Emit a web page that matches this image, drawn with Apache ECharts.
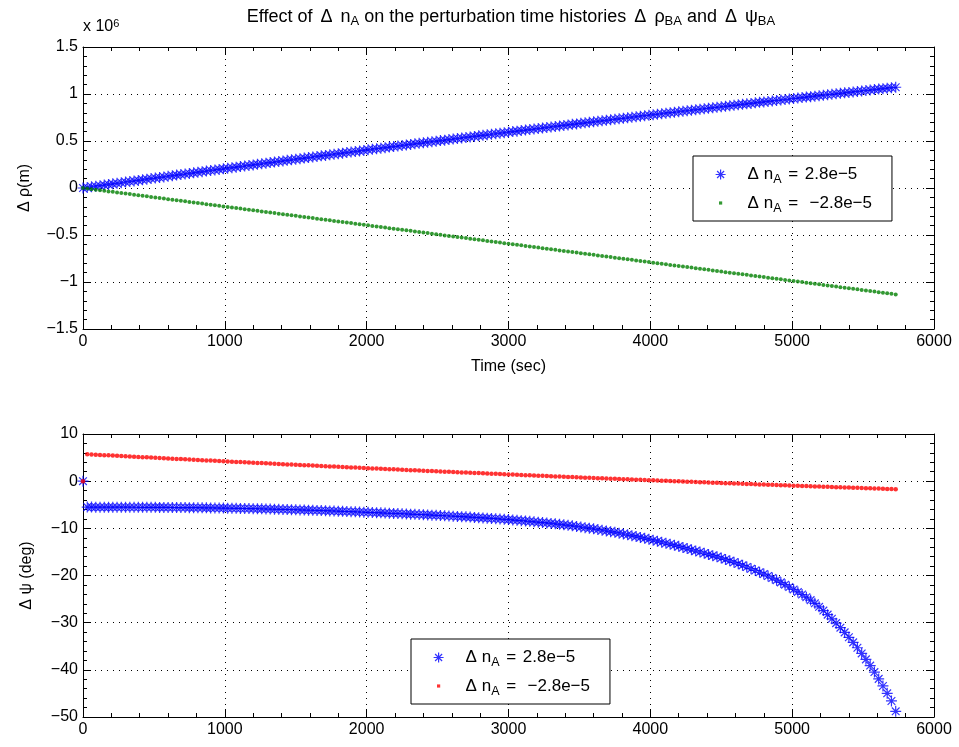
<!DOCTYPE html>
<html>
<head>
<meta charset="utf-8">
<title>Perturbation time histories</title>
<script src="https://cdn.jsdelivr.net/npm/echarts@6/dist/echarts.min.js"></script>
</head>
<body style="margin:0">
<div id="main" style="width:959px;height:747px;"></div>
<script>
// sample times (sec)
var times = [
0,30,60,90,120,150,180,210,240,270,
300,330,360,390,420,450,480,510,540,570,
600,630,660,690,720,750,780,810,840,870,
900,930,960,990,1020,1050,1080,1110,1140,1170,
1200,1230,1260,1290,1320,1350,1380,1410,1440,1470,
1500,1530,1560,1590,1620,1650,1680,1710,1740,1770,
1800,1830,1860,1890,1920,1950,1980,2010,2040,2070,
2100,2130,2160,2190,2220,2250,2280,2310,2340,2370,
2400,2430,2460,2490,2520,2550,2580,2610,2640,2670,
2700,2730,2760,2790,2820,2850,2880,2910,2940,2970,
3000,3030,3060,3090,3120,3150,3180,3210,3240,3270,
3300,3330,3360,3390,3420,3450,3480,3510,3540,3570,
3600,3630,3660,3690,3720,3750,3780,3810,3840,3870,
3900,3930,3960,3990,4020,4050,4080,4110,4140,4170,
4200,4230,4260,4290,4320,4350,4380,4410,4440,4470,
4500,4530,4560,4590,4620,4650,4680,4710,4740,4770,
4800,4830,4860,4890,4920,4950,4980,5010,5040,5070,
5100,5130,5160,5190,5220,5250,5280,5310,5340,5370,
5400,5430,5460,5490,5520,5550,5580,5610,5640,5670,
5700,5730];

// delta rho, in thousands of metres (axis shows x 10^6)
var rhoPlus = [
0,6,13,19,25,31,38,44,50,56,
63,69,75,81,87,94,100,106,112,118,
125,131,137,143,149,155,161,167,174,180,
186,192,198,204,210,216,222,228,234,240,
246,252,258,264,270,276,282,288,294,300,
306,312,318,324,330,336,342,347,353,359,
365,371,377,383,388,394,400,406,412,418,
423,429,435,441,446,452,458,464,470,475,
481,487,492,498,504,509,515,521,527,532,
538,543,549,555,560,566,572,577,583,588,
594,600,605,611,616,622,627,633,638,644,
649,655,660,666,671,677,682,688,693,699,
704,710,715,720,726,731,737,742,747,753,
758,764,769,774,780,785,790,796,801,806,
811,817,822,827,833,838,843,848,854,859,
864,869,874,880,885,890,895,900,906,911,
916,921,926,931,936,941,947,952,957,962,
967,972,977,982,987,992,997,1002,1007,1012,
1017,1022,1027,1032,1037,1042,1047,1052,1057,1062,
1067,1072];

var rhoMinus = [
0,-6,-12,-18,-24,-30,-36,-41,-47,-53,
-59,-65,-71,-77,-83,-89,-95,-101,-107,-113,
-119,-124,-130,-136,-142,-148,-154,-160,-166,-172,
-178,-184,-190,-196,-201,-207,-213,-219,-225,-231,
-237,-243,-249,-255,-261,-267,-273,-278,-284,-290,
-296,-302,-308,-314,-320,-326,-332,-338,-344,-350,
-356,-361,-367,-373,-379,-385,-391,-397,-403,-409,
-415,-421,-427,-433,-438,-444,-450,-456,-462,-468,
-474,-480,-486,-492,-498,-504,-510,-515,-521,-527,
-533,-539,-545,-551,-557,-563,-569,-575,-581,-587,
-593,-598,-604,-610,-616,-622,-628,-634,-640,-646,
-652,-658,-664,-670,-675,-681,-687,-693,-699,-705,
-711,-717,-723,-729,-735,-741,-747,-752,-758,-764,
-770,-776,-782,-788,-794,-800,-806,-812,-818,-824,
-830,-835,-841,-847,-853,-859,-865,-871,-877,-883,
-889,-895,-901,-907,-912,-918,-924,-930,-936,-942,
-948,-954,-960,-966,-972,-978,-984,-989,-995,-1001,
-1007,-1013,-1019,-1025,-1031,-1037,-1043,-1049,-1055,-1061,
-1067,-1072,-1078,-1084,-1090,-1096,-1102,-1108,-1114,-1120,
-1126,-1132];

// delta psi, degrees
var psiPlus = [
0,-5.50,-5.50,-5.51,-5.51,-5.51,-5.51,-5.51,-5.52,-5.52,
-5.52,-5.52,-5.53,-5.53,-5.54,-5.54,-5.55,-5.55,-5.56,-5.56,
-5.57,-5.58,-5.59,-5.59,-5.60,-5.61,-5.62,-5.63,-5.65,-5.66,
-5.67,-5.68,-5.70,-5.71,-5.73,-5.74,-5.76,-5.78,-5.79,-5.81,
-5.83,-5.85,-5.87,-5.90,-5.92,-5.94,-5.96,-5.99,-6.01,-6.04,
-6.06,-6.09,-6.12,-6.14,-6.17,-6.20,-6.23,-6.26,-6.30,-6.33,
-6.36,-6.40,-6.43,-6.47,-6.50,-6.54,-6.58,-6.61,-6.65,-6.68,
-6.72,-6.76,-6.80,-6.83,-6.87,-6.91,-6.95,-6.99,-7.03,-7.07,
-7.11,-7.15,-7.20,-7.24,-7.29,-7.33,-7.38,-7.43,-7.47,-7.52,
-7.57,-7.62,-7.68,-7.73,-7.79,-7.84,-7.90,-7.96,-8.03,-8.09,
-8.15,-8.22,-8.30,-8.37,-8.45,-8.52,-8.61,-8.69,-8.78,-8.86,
-8.95,-9.05,-9.16,-9.26,-9.37,-9.47,-9.60,-9.72,-9.85,-9.97,
-10.10,-10.25,-10.40,-10.55,-10.70,-10.85,-11.02,-11.20,-11.37,-11.55,
-11.72,-11.92,-12.12,-12.32,-12.52,-12.72,-12.94,-13.16,-13.38,-13.60,
-13.82,-14.06,-14.30,-14.54,-14.78,-15.02,-15.28,-15.53,-15.79,-16.04,
-16.30,-16.59,-16.89,-17.20,-17.52,-17.85,-18.20,-18.56,-18.93,-19.31,
-19.70,-20.11,-20.54,-20.99,-21.46,-21.95,-22.44,-22.95,-23.48,-24.03,
-24.60,-25.22,-25.90,-26.64,-27.44,-28.30,-29.18,-30.10,-31.06,-32.06,
-33.10,-34.18,-35.32,-36.52,-37.78,-39.10,-40.48,-41.92,-43.42,-44.98,
-46.60,-48.80];

var psiMinus = [
0,5.70,5.66,5.61,5.56,5.51,5.47,5.42,5.37,5.32,
5.28,5.23,5.18,5.14,5.09,5.05,5.00,4.95,4.91,4.86,
4.81,4.77,4.72,4.68,4.63,4.59,4.54,4.49,4.45,4.40,
4.36,4.31,4.27,4.22,4.18,4.14,4.09,4.05,4.00,3.96,
3.91,3.87,3.83,3.78,3.74,3.70,3.65,3.61,3.56,3.52,
3.48,3.43,3.39,3.35,3.31,3.26,3.22,3.18,3.13,3.09,
3.05,3.01,2.97,2.92,2.88,2.84,2.80,2.76,2.71,2.67,
2.63,2.59,2.55,2.51,2.47,2.43,2.39,2.34,2.30,2.26,
2.22,2.18,2.14,2.10,2.06,2.02,1.98,1.94,1.90,1.86,
1.82,1.78,1.75,1.71,1.67,1.63,1.59,1.55,1.51,1.47,
1.43,1.39,1.36,1.32,1.28,1.24,1.20,1.17,1.13,1.09,
1.05,1.01,0.98,0.94,0.90,0.86,0.83,0.79,0.75,0.72,
0.68,0.64,0.61,0.57,0.53,0.50,0.46,0.42,0.39,0.35,
0.31,0.28,0.24,0.21,0.17,0.14,0.10,0.07,0.03,0.00,
-0.04,-0.07,-0.11,-0.14,-0.18,-0.21,-0.25,-0.28,-0.32,-0.35,
-0.38,-0.42,-0.45,-0.48,-0.52,-0.55,-0.59,-0.62,-0.65,-0.69,
-0.72,-0.75,-0.78,-0.82,-0.85,-0.88,-0.92,-0.95,-0.98,-1.01,
-1.05,-1.08,-1.11,-1.14,-1.17,-1.20,-1.24,-1.27,-1.30,-1.33,
-1.36,-1.39,-1.42,-1.46,-1.49,-1.52,-1.55,-1.58,-1.61,-1.64,
-1.67,-1.70];

var legendNames = {
    plus: '{a|\u0394 n}{s|A}{e| = }{a|2.8e\u22125}',
    minus: '{a|\u0394 n}{s|A}{e| =  }{a|\u22122.8e\u22125}'
};

var FONT = 'Liberation Sans';
var STAR = 'path://M0,5L10,5M5,0L5,10M1.5,1.5L8.5,8.5M1.5,8.5L8.5,1.5';
var DOT = 'path://M0,0M10,10M3.4,3.4L6.6,3.4L6.6,6.6L3.4,6.6Z';

var myChart = echarts.init(document.getElementById('main'));

function pairs(vals) {
    return times.map(function (t, i) { return [t, vals[i]]; });
}
function fmt(v) {
    return String(v).replace('-', '\u2212');
}

var nameStyle = {color: '#000', fontSize: 16, fontFamily: FONT};
var gridLine = {show: true, lineStyle: {color: '#000', type: [1, 5], width: 1}};

function axisCommon(grid, pos, min, max, interval, main) {
    return {
        type: 'value', gridIndex: grid, position: pos,
        min: min, max: max, interval: interval,
        axisLine: {show: true, onZero: false, lineStyle: {color: '#000', width: 1}},
        axisTick: {show: true, inside: true, length: 8, lineStyle: {color: '#000'}},
        minorTick: {show: true, splitNumber: 5, length: 4, lineStyle: {color: '#000'}},
        axisLabel: main ? {show: true, margin: 5, formatter: fmt, color: '#000', fontSize: 16, fontFamily: FONT} : {show: false},
        splitLine: main ? gridLine : {show: false}
    };
}

var xTop = axisCommon(0, 'bottom', 0, 6000, 1000, true);
xTop.name = 'Time (sec)';
xTop.nameLocation = 'middle';
xTop.nameGap = 30;
xTop.nameTextStyle = nameStyle;

var yTop = axisCommon(0, 'left', -1500, 1500, 500, true);
yTop.axisLabel.formatter = function (v) { return fmt(v / 1000); };
yTop.name = '\u0394 \u03c1(m)';
yTop.nameLocation = 'middle';
yTop.nameRotate = 90;
yTop.nameGap = 50;
yTop.nameTextStyle = nameStyle;

var yBot = axisCommon(1, 'left', -50, 10, 10, true);
yBot.name = '\u0394 \u03c8 (deg)';
yBot.nameLocation = 'middle';
yBot.nameRotate = 90;
yBot.nameGap = 48;
yBot.nameTextStyle = nameStyle;

var legendRich = {
    a: {fontSize: 17, lineHeight: 24, fontFamily: FONT, color: '#000'},
    e: {fontSize: 17, lineHeight: 24, fontFamily: FONT, color: '#000', padding: [0, 2, 0, 2]},
    s: {fontSize: 12.5, lineHeight: 10, verticalAlign: 'bottom', fontFamily: FONT, color: '#000'}
};

function makeLegend(left, top, names) {
    return {
        data: [{name: names[0]}, {name: names[1], icon: DOT}],
        orient: 'vertical', left: left, top: top,
        itemWidth: 44, itemHeight: 10, itemGap: 8,
        padding: [10, 20, 6, 22],
        borderColor: '#000', borderWidth: 1, backgroundColor: '#fff',
        selectedMode: false,
        itemStyle: {borderWidth: 1.2},
        formatter: function (n) { return n.charAt(0) === 'p' ? legendNames.plus : legendNames.minus; },
        textStyle: {rich: legendRich}
    };
}

function starSeries(name, x, y, vals) {
    return {
        name: name, type: 'scatter', xAxisIndex: x, yAxisIndex: y, clip: false,
        symbol: STAR, symbolSize: 11,
        itemStyle: {color: 'rgba(0,0,0,0)', borderColor: '#0000ff', borderWidth: 1.2},
        data: pairs(vals)
    };
}
function dotSeries(name, x, y, vals, color, size) {
    return {
        name: name, type: 'scatter', xAxisIndex: x, yAxisIndex: y, clip: false,
        symbol: 'circle', symbolSize: size,
        itemStyle: {color: color, borderWidth: 0},
        data: pairs(vals)
    };
}

var option = {
    animation: false,
    backgroundColor: '#fff',
    textStyle: {fontFamily: FONT},
    title: {
        text: '{t|Effect of }{g|\u0394}{t| n}{s|A}{t| on the perturbation time histories }{g|\u0394}{t| \u03c1}{s|BA}{t| and }{g|\u0394}{t| \u03c8}{s|BA}',
        left: 511, top: 6, padding: 0, textAlign: 'center',
        textStyle: {
            rich: {
                t: {fontSize: 18, fontWeight: 'normal', lineHeight: 22, fontFamily: FONT, color: '#000'},
                g: {fontSize: 18, fontWeight: 'normal', lineHeight: 22, fontFamily: FONT, color: '#000', padding: [0, 3, 0, 3]},
                s: {fontSize: 13, fontWeight: 'normal', lineHeight: 10, verticalAlign: 'bottom', fontFamily: FONT, color: '#000'}
            }
        }
    },
    graphic: [{
        type: 'text', left: 83, top: 18,
        style: {
            text: '{a|x 10}{b|6}',
            rich: {
                a: {fontSize: 16, lineHeight: 18, fontFamily: FONT, fill: '#000'},
                b: {fontSize: 11, lineHeight: 6, verticalAlign: 'top', fontFamily: FONT, fill: '#000'}
            }
        }
    }],
    grid: [
        {left: 83, top: 47, width: 851, height: 282},
        {left: 83, top: 434, width: 851, height: 283}
    ],
    xAxis: [
        xTop,
        axisCommon(0, 'top', 0, 6000, 1000, false),
        axisCommon(1, 'bottom', 0, 6000, 1000, true),
        axisCommon(1, 'top', 0, 6000, 1000, false)
    ],
    yAxis: [
        yTop,
        axisCommon(0, 'right', -1500, 1500, 500, false),
        yBot,
        axisCommon(1, 'right', -50, 10, 10, false)
    ],
    legend: [
        makeLegend(693, 156, ['p1', 'n1']),
        makeLegend(411, 639, ['p2', 'n2'])
    ],
    series: [
        starSeries('p1', 0, 0, rhoPlus),
        dotSeries('n1', 0, 0, rhoMinus, '#008000', 4),
        starSeries('p2', 2, 2, psiPlus),
        dotSeries('n2', 2, 2, psiMinus, '#ff0000', 4.5)
    ]
};

myChart.setOption(option);
</script>
</body>
</html>
